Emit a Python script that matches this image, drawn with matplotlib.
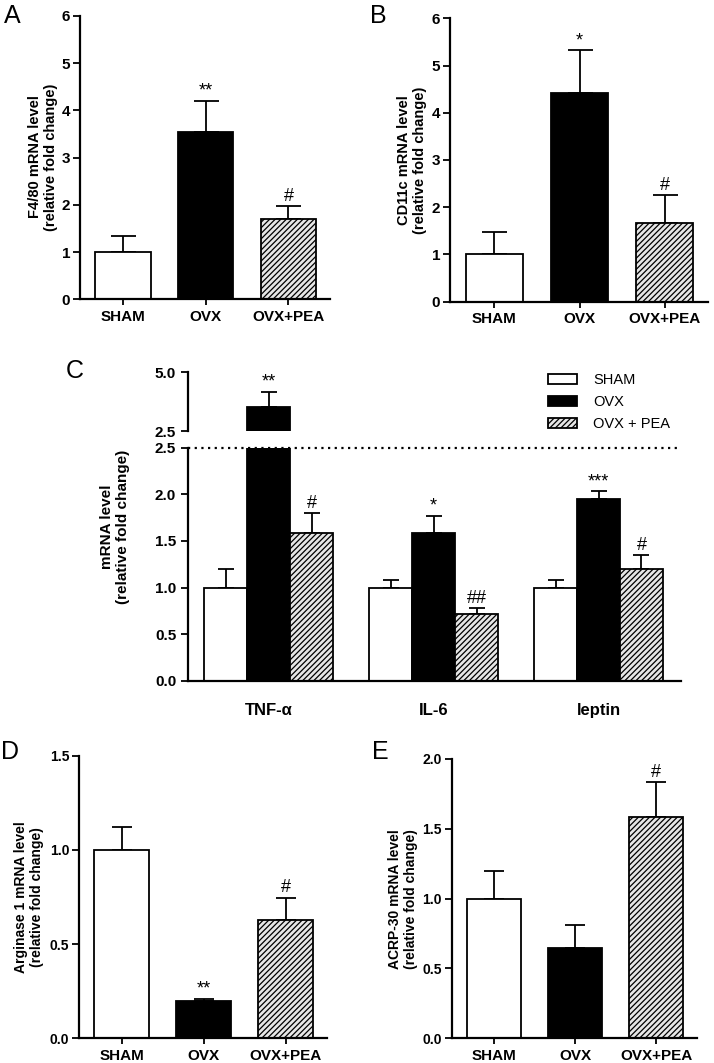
import matplotlib
matplotlib.use('Agg')
import matplotlib.pyplot as plt
from matplotlib.patches import Patch
from matplotlib.ticker import FormatStrFormatter

plt.rcParams['font.family'] = ['Liberation Sans', 'DejaVu Sans']
plt.rcParams['hatch.linewidth'] = 0.9

# groups and values
groups = ['SHAM', 'OVX', 'OVX+PEA']

a_mean = [1.0, 3.53, 1.69]
a_sem = [0.34, 0.66, 0.28]
a_sig = ['', '**', '#']

b_mean = [1.0, 4.41, 1.66]
b_sem = [0.47, 0.91, 0.59]
b_sig = ['', '*', '#']

c_genes = ['TNF-\u03b1', 'IL-6', 'leptin']
c_legend = ['SHAM', 'OVX', 'OVX + PEA']
c_sham = [1.0, 1.0, 1.0]
c_sham_sem = [0.20, 0.08, 0.08]
c_ovx = [3.50, 1.59, 1.95]
c_ovx_sem = [0.64, 0.18, 0.08]
c_pea = [1.59, 0.72, 1.20]
c_pea_sem = [0.21, 0.06, 0.15]
c_ovx_sig = ['**', '*', '***']
c_pea_sig = ['#', '##', '#']

d_mean = [1.0, 0.20, 0.626]
d_sem = [0.12, 0.01, 0.12]
d_sig = ['', '**', '#']

e_mean = [1.0, 0.65, 1.586]
e_sem = [0.195, 0.16, 0.25]
e_sig = ['', '', '#']

colors = ['white', 'black', '#e6e6e6']
hatches = [None, None, '//////']
LW = 1.3

fig = plt.figure(figsize=(7.14, 10.63), dpi=100)


def style_axes(ax):
    for s in ['top', 'right']:
        ax.spines[s].set_visible(False)
    for s in ['left', 'bottom']:
        ax.spines[s].set_linewidth(1.6)
    ax.tick_params(width=1.3, length=5)


def simple_panel(rect, means, sems, sigs, ylim, yticks, fmt, capsize, ysize=11):
    ax = fig.add_axes(rect)
    x = range(len(groups))
    ax.bar(x, means, width=0.67, color=colors, edgecolor='black',
           linewidth=LW, hatch=hatches, zorder=2)
    ax.errorbar(x, means, yerr=[[0] * len(sems), sems], fmt='none',
                ecolor='black', elinewidth=LW, capsize=capsize,
                capthick=LW, zorder=1)
    for xi, m, s, t in zip(x, means, sems, sigs):
        if t:
            ax.annotate(t, (xi, m + s), xytext=(0, 1), textcoords='offset points',
                        ha='center', va='bottom', fontsize=13)
    ax.set_xlim(-0.52, 2.5)
    ax.set_ylim(*ylim)
    ax.set_yticks(yticks)
    ax.yaxis.set_major_formatter(FormatStrFormatter(fmt))
    ax.set_xticks(list(x))
    ax.set_xticklabels(groups)
    style_axes(ax)
    ax.tick_params(axis='x', length=4)
    ax.tick_params(axis='y', pad=2)
    for lab in ax.get_xticklabels():
        lab.set_fontweight('bold')
        lab.set_fontsize(11)
    for lab in ax.get_yticklabels():
        lab.set_fontweight('bold')
        lab.set_fontsize(ysize)
    return ax


# Panel A
simple_panel([0.112, 0.7184, 0.350, 0.2668], a_mean, a_sem, a_sig,
             (0, 6), range(0, 7), '%d', 9)
fig.text(43 / 714, 1 - 157 / 1063, 'F4/80 mRNA level\n(relative fold change)',
         rotation=90, ha='center', va='center', fontsize=10.5, fontweight='bold')
fig.text(4 / 714, 1 - 16 / 1063, 'A', fontsize=18, va='center')

# Panel B
simple_panel([0.630, 0.7162, 0.361, 0.2666], b_mean, b_sem, b_sig,
             (0, 6), range(0, 7), '%d', 9)
fig.text(412 / 714, 1 - 160 / 1063, 'CD11c mRNA level\n(relative fold change)',
         rotation=90, ha='center', va='center', fontsize=10.5, fontweight='bold')
fig.text(370 / 714, 1 - 16 / 1063, 'B', fontsize=18, va='center')

# Panel C (broken axis)
axc = fig.add_axes([0.2633, 0.3594, 0.6905, 0.2195])
axu = fig.add_axes([0.2633, 0.5945, 0.6905, 0.0555])
w = 0.26
series = [(c_sham, c_sham_sem, ['', '', '']),
          (c_ovx, c_ovx_sem, c_ovx_sig),
          (c_pea, c_pea_sem, c_pea_sig)]
for ax in [axc, axu]:
    for i, (vals, sems, sigs) in enumerate(series):
        xs = [g + (i - 1) * w for g in range(len(c_genes))]
        ax.bar(xs, vals, width=w, color=colors[i], edgecolor='black',
               linewidth=LW, hatch=hatches[i], zorder=2)
        ax.errorbar(xs, vals, yerr=[[0] * 3, sems], fmt='none', ecolor='black',
                    elinewidth=LW, capsize=6, capthick=LW, zorder=1)
        for xi, m, s, t in zip(xs, vals, sems, sigs):
            top = m + s
            if t and ((ax is axu) == (top > 2.5)):
                ax.annotate(t, (xi, top), xytext=(0, 1), textcoords='offset points',
                            ha='center', va='bottom', fontsize=13)
    ax.set_xlim(-0.49, 2.5)
    ax.spines['top'].set_visible(False)
    ax.spines['right'].set_visible(False)
    ax.spines['left'].set_linewidth(1.6)
    ax.tick_params(width=1.3, length=5, labelsize=11)

axc.set_ylim(0, 2.5)
axc.set_yticks([0, 0.5, 1.0, 1.5, 2.0, 2.5])
axc.yaxis.set_major_formatter(FormatStrFormatter('%.1f'))
axc.spines['bottom'].set_linewidth(1.6)
axc.set_xticks(range(len(c_genes)))
axc.set_xticklabels(c_genes, fontweight='bold', fontsize=12)
axc.tick_params(axis='x', length=0, pad=16)
for lab in axc.get_yticklabels():
    lab.set_fontweight('bold')
axc.axhline(2.5, color='black', linestyle=(0, (1, 2)), linewidth=1.6,
            clip_on=False, zorder=3)

axu.set_ylim(2.5, 5.0)
axu.set_yticks([2.5, 5.0])
axu.yaxis.set_major_formatter(FormatStrFormatter('%.1f'))
axu.spines['bottom'].set_visible(False)
axu.set_xticks([])
for lab in axu.get_yticklabels():
    lab.set_fontweight('bold')

handles = [Patch(facecolor=colors[i], edgecolor='black', linewidth=LW,
                 hatch=hatches[i]) for i in range(3)]
fig.legend(handles, c_legend, loc='upper left',
           bbox_to_anchor=(548 / 714, 1 - 373 / 1063), frameon=False,
           handlelength=2.0, handleheight=0.75,
           handletextpad=1.1, labelspacing=0.55, borderpad=0,
           borderaxespad=0, prop={'size': 10.5})

fig.text(115 / 714, 1 - 527 / 1063, 'mRNA level\n(relative fold change)',
         rotation=90, ha='center', va='center', fontsize=11, fontweight='bold')
fig.text(66 / 714, 1 - 371 / 1063, 'C', fontsize=18, va='center')

# Panel D
simple_panel([0.1106, 0.0232, 0.347, 0.2659], d_mean, d_sem, d_sig,
             (0, 1.5), [0, 0.5, 1.0, 1.5], '%.1f', 7, ysize=10)
fig.text(29 / 714, 1 - 897 / 1063, 'Arginase 1 mRNA level\n(relative fold change)',
         rotation=90, ha='center', va='center', fontsize=10, fontweight='bold')
fig.text(1 / 714, 1 - 752 / 1063, 'D', fontsize=18, va='center')

# Panel E
simple_panel([0.6326, 0.0232, 0.343, 0.2628], e_mean, e_sem, e_sig,
             (0, 2.0), [0, 0.5, 1.0, 1.5, 2.0], '%.1f', 7, ysize=10)
fig.text(403 / 714, 1 - 899 / 1063, 'ACRP-30 mRNA level\n(relative fold change)',
         rotation=90, ha='center', va='center', fontsize=10, fontweight='bold')
fig.text(372 / 714, 1 - 752 / 1063, 'E', fontsize=18, va='center')

fig.savefig('out.png', dpi=100)
